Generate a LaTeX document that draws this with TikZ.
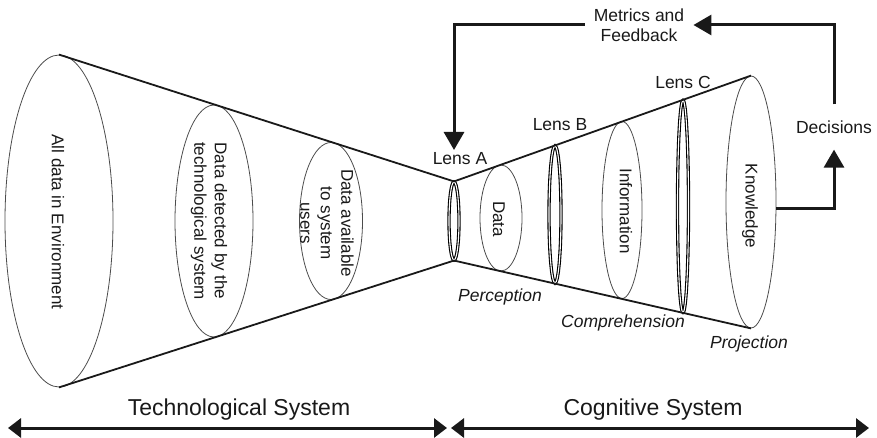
\documentclass[tikz,border=0pt]{standalone}
\usepackage{fontspec}
\setmainfont{Liberation Sans}
\usetikzlibrary{shapes.geometric,arrows.meta}
\begin{document}
\begin{tikzpicture}[x=1pt,y=-1pt,
  cone/.style={line width=1.8pt, draw=black!90},
  ell/.style={ellipse, draw=black!70, line width=0.8pt, inner sep=0pt},
  lensnode/.style={ellipse, draw=black, line width=1.1pt, double=white, double distance=1.1pt, inner sep=0pt},
  lbl/.style={font=\fontsize{17.5}{20}\selectfont, text=black!90, inner sep=2pt},
  rlbl/.style={font=\fontsize{17}{20.5}\selectfont, text=black!90, rotate=-90, align=center},
  ilbl/.style={font=\fontsize{17.5}{20}\selectfont\itshape, text=black!90},
  flow/.style={line width=3pt, draw=black!90, -{Triangle[width=20pt,length=18pt]}},
  span/.style={line width=3pt, draw=black!90, {Triangle[width=19pt,length=13pt]}-{Triangle[width=19pt,length=13pt]}},
  big/.style={font=\fontsize{23}{26}\selectfont, text=black!90}
]
\useasboundingbox (0,0) rectangle (877,438);

% ellipses of the technological system
\node[ell, minimum width=108, minimum height=332] (env) at (59,221) {};
\node[ell, minimum width=78, minimum height=232] (det) at (214,221) {};
\node[ell, minimum width=63, minimum height=157] (avail) at (331,221) {};

% ellipses of the cognitive system
\node[ell, minimum width=42, minimum height=106] (data) at (501,218) {};
\node[ell, minimum width=40, minimum height=177] (info) at (622,210) {};
\node[ell, minimum width=50, minimum height=252] (know) at (751,202) {};

% lenses
\node[lensnode, minimum width=10, minimum height=78] (lensA) at (454,221) {};
\node[lensnode, minimum width=12, minimum height=137] (lensB) at (555,214.5) {};
\node[lensnode, minimum width=11, minimum height=212] (lensC) at (683,206.4) {};

% cone outlines
\draw[cone] (env.north) -- (lensA.north) -- (know.north);
\draw[cone] (env.south) -- (lensA.south) -- (know.south);

% texts in ellipses
\node[rlbl] (tenv) at (58,222) {All data in Environment};
\node[rlbl] (tdet) at (209,221) {Data detected by the\\technological system};
\node[rlbl] (tavail) at (327,223) {Data available\\to system\\users};
\node[rlbl] (tdata) at (499,219) {Data};
\node[rlbl] (tinfo) at (626,211) {Information};
\node[rlbl] (tknow) at (750,206) {Knowledge};

% lens labels
\node[lbl] (la) at (460,159) {Lens A};
\node[lbl] (lb) at (560,125) {Lens B};
\node[lbl] (lc) at (683,82) {Lens C};

% stage labels
\node[ilbl] (perc) at (500,297) {Perception};
\node[ilbl] (comp) at (623,323) {Comprehension};
\node[ilbl] (proj) at (749,344) {Projection};

% feedback loop
\node[lbl, align=center, inner xsep=9pt, inner ysep=1pt] (mf) at (639,25) {Metrics and\\Feedback};
\node[lbl, inner xsep=2pt, inner ysep=16pt] (dec) at (834,127) {Decisions};
\coordinate (fbtip) at (454,150);
\draw[flow] (mf.west) -| (fbtip);
\draw[flow] ([yshift=-7pt]know.east) -| (dec.south);
\draw[flow] (dec.north) |- (mf.east);

% systems
\node[big] (tech) at (239,410) {Technological System};
\node[big] (cog) at (653,410) {Cognitive System};
\coordinate (tl) at (8,428);
\coordinate (tr) at (447,428);
\coordinate (cl) at (451,428);
\coordinate (cr) at (869,428);
\draw[span] (tl) -- (tr);
\draw[span] (cl) -- (cr);
\end{tikzpicture}
\end{document}
